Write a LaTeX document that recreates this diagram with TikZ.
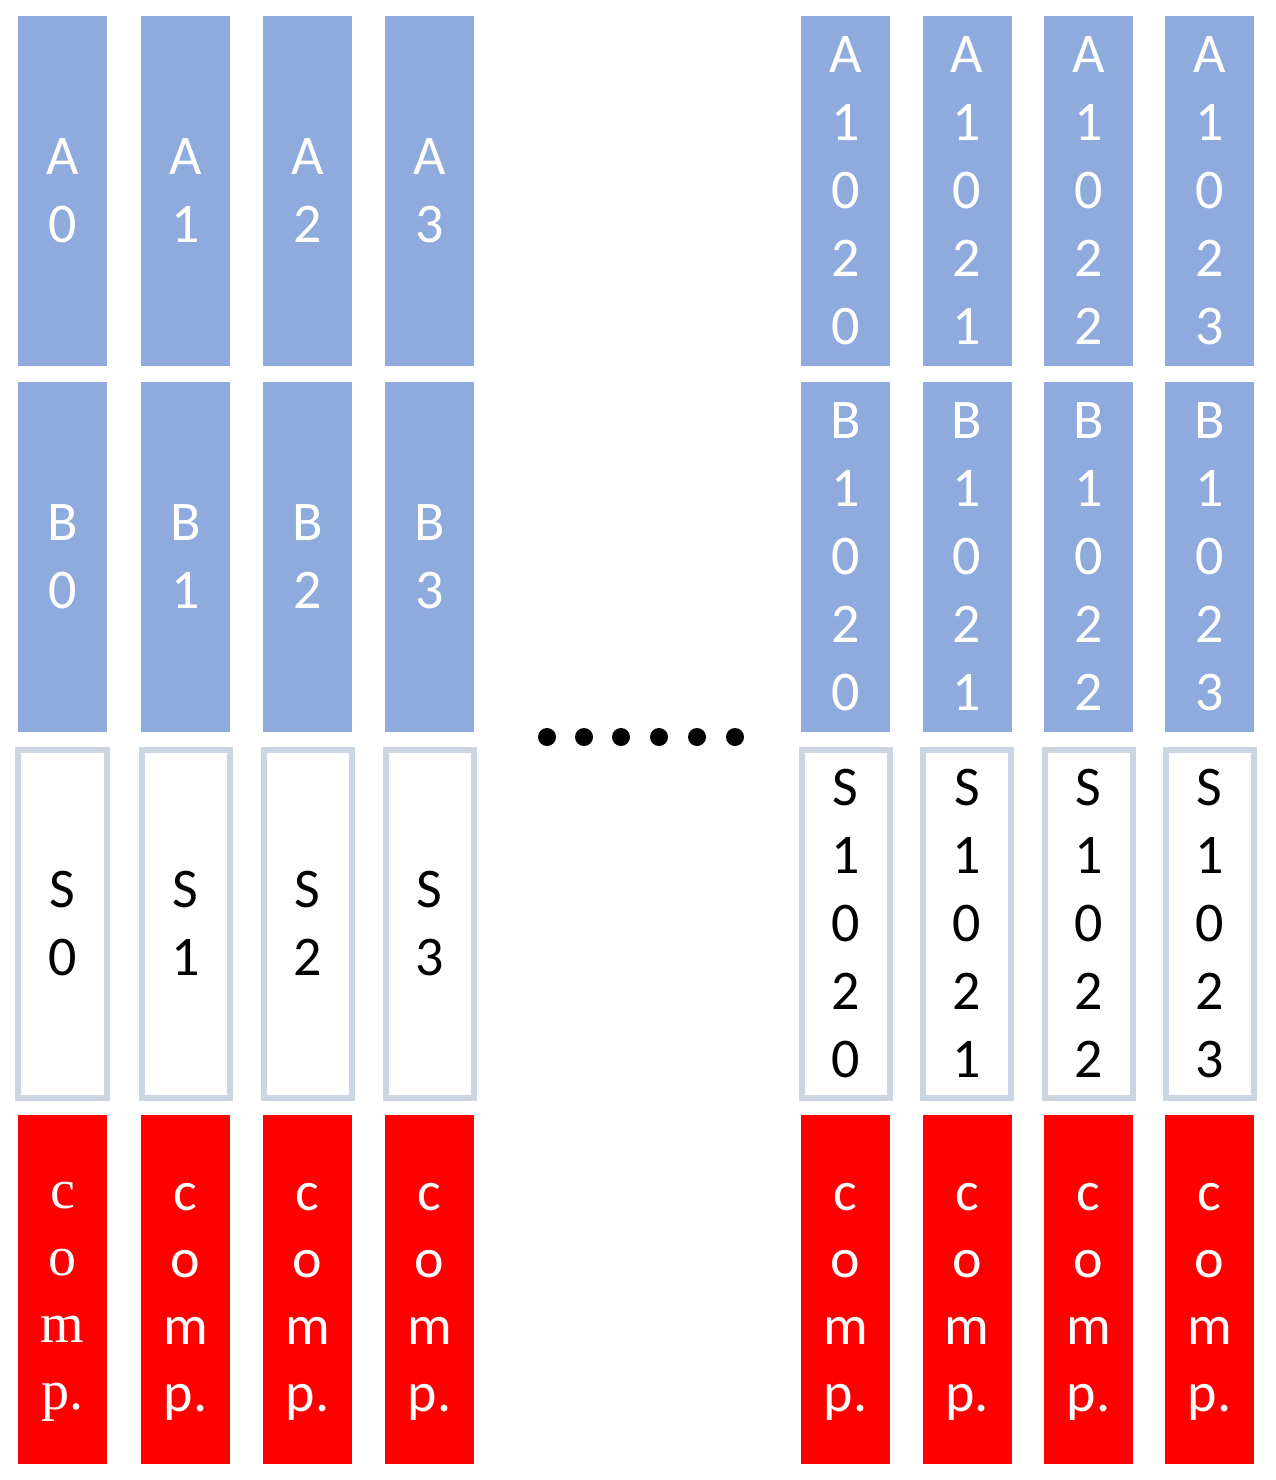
\documentclass[tikz,border=0pt]{standalone}
\usepackage{fontspec}
\setmainfont{Carlito}
\newfontfamily\compserif{Liberation Serif}
\definecolor{boxblue}{HTML}{8FAADC}
\definecolor{sline}{HTML}{CCD5E2}
\definecolor{compred}{HTML}{FF0000}
\tikzset{
  cell/.style={rectangle, inner sep=0pt, minimum width=89bp, minimum height=350bp,
    align=center, font=\fontsize{56bp}{68bp}\selectfont},
  bluecell/.style={cell, fill=boxblue, text=white},
  scell/.style={cell, draw=sline, line width=6bp, fill=white, text=black,
    minimum width=88bp, minimum height=348.5bp},
  redcell/.style={cell, fill=compred, minimum height=349bp},
  comptext/.style={inner sep=0pt, align=center, text=white,
    font=\fontsize{56bp}{67bp}\selectfont},
  blackdot/.style={circle, fill=black, inner sep=0pt, minimum size=18bp}
}
\begin{document}
\begin{tikzpicture}[x=1bp,y=-1bp]
\useasboundingbox (0,0) rectangle (1275,1480);
% left group
\foreach \i/\cx in {0/62.5,1/185.5,2/307.5,3/429.5}{
  \node[bluecell] (a\i) at (\cx,191) {A\\\i};
  \node[bluecell] (b\i) at (\cx,557) {B\\\i};
  \node[scell]    (s\i) at (\cx,923.75) {S\\\i};
  \node[redcell]  (c\i) at (\cx,1289.5) {};
}
\node[comptext, font=\fontsize{56bp}{67bp}\selectfont\compserif, yshift=-12bp] (t0) at (c0.center) {c\\o\\m\\p.};
\foreach \i in {1,2,3}{
  \node[comptext, yshift=-12bp] (t\i) at (c\i.center) {c\\o\\m\\p.};
}
% right group
\foreach \i/\cx in {0/845.5,1/967,2/1088.5,3/1209.5}{
  \node[bluecell] (ar\i) at (\cx,191) {A\\1\\0\\2\\\i};
  \node[bluecell] (br\i) at (\cx,557) {B\\1\\0\\2\\\i};
  \node[scell]    (sr\i) at (\cx,923.75) {S\\1\\0\\2\\\i};
  \node[redcell]  (cr\i) at (\cx,1289.5) {};
  \node[comptext, yshift=-12bp] (tr\i) at (cr\i.center) {c\\o\\m\\p.};
}
% dots
\foreach \k/\dx in {1/547,2/584,3/621,4/659,5/697,6/735}{
  \node[blackdot] (d\k) at (\dx,737) {};
}
\end{tikzpicture}
\end{document}
